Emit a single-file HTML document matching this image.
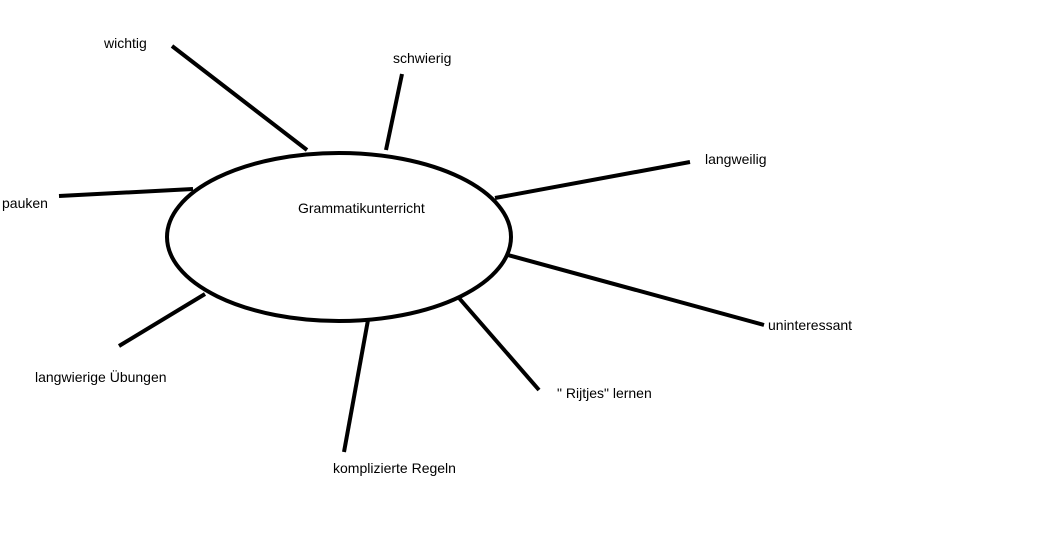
<!DOCTYPE html>
<html><head><meta charset="utf-8"><style>
html,body{margin:0;padding:0;background:#fff;width:1053px;height:537px;overflow:hidden}
svg{display:block}
text{font-family:"Liberation Sans",sans-serif;font-size:14px;fill:#000}
</style></head><body>
<svg width="1053" height="537" viewBox="0 0 1053 537">
<ellipse cx="339" cy="237" rx="172" ry="84" fill="none" stroke="#000" stroke-width="4"/>
<g stroke="#000" stroke-width="4" stroke-linecap="butt">
<line x1="172" y1="46" x2="307" y2="150"/>
<line x1="402" y1="74" x2="386" y2="150"/>
<line x1="690" y1="162" x2="495" y2="198"/>
<line x1="59" y1="196" x2="193" y2="189"/>
<line x1="508" y1="255" x2="764" y2="325"/>
<line x1="205" y1="294" x2="119" y2="346"/>
<line x1="459" y1="298" x2="539" y2="390"/>
<line x1="368" y1="320" x2="344" y2="452"/>
</g>
<text x="104" y="48">wichtig</text>
<text x="393" y="63">schwierig</text>
<text x="705" y="164">langweilig</text>
<text x="2" y="208">pauken</text>
<text x="298" y="213">Grammatikunterricht</text>
<text x="768" y="330">uninteressant</text>
<text x="35" y="382">langwierige Übungen</text>
<text x="557" y="398">" Rijtjes" lernen</text>
<text x="333" y="473">komplizierte Regeln</text>
</svg>
</body></html>
